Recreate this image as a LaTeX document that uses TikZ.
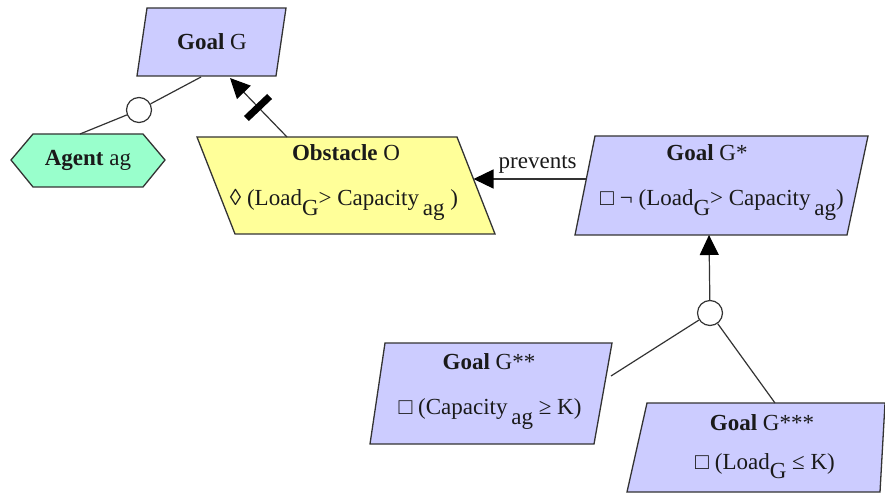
\documentclass[tikz,border=0pt]{standalone}
\usepackage{fontspec}
\setmainfont{Liberation Serif}
\usetikzlibrary{arrows.meta,calc}
\definecolor{goalfill}{HTML}{CCCCFF}
\definecolor{obsfill}{HTML}{FFFF99}
\definecolor{agentfill}{HTML}{99FFCC}
\definecolor{edgecol}{HTML}{333333}
\definecolor{txtcol}{HTML}{1A1A1A}
\newcommand{\sbs}[1]{\raisebox{-0.42em}{#1}}
\begin{document}
\begin{tikzpicture}[x=1pt,y=-1pt,
  shapeline/.style={draw=edgecol, line width=1.3pt, line join=miter},
  goalshape/.style={shapeline, fill=goalfill},
  obsshape/.style={shapeline, fill=obsfill},
  agentshape/.style={shapeline, fill=agentfill},
  lbl/.style={font=\fontsize{23}{26}\selectfont, text=txtcol, inner sep=0pt},
  link/.style={draw=edgecol, line width=1.2pt},
  reftip/.style={link, -{Triangle[length=20pt,width=19pt,color=black]}},
  andcirc/.style={circle, draw=edgecol, line width=1.2pt, fill=white, minimum size=25pt, inner sep=0pt}]
\useasboundingbox (0,0) rectangle (885,494);
% Goal G
\draw[goalshape] (147,8) -- (286,8) -- (276,76) -- (137,76) -- cycle;
\node[lbl] (gG) at (212,42) {\textbf{Goal} G};
\coordinate (gG-a) at (201,77);
\coordinate (gG-b) at (230,78);
% Agent
\draw[agentshape] (11,160) -- (33,134) -- (143,134) -- (165,160) -- (143,187) -- (33,187) -- cycle;
\node[lbl] (ag) at (88,160) {\textbf{Agent} ag};
\coordinate (ag-top) at (80,134);
% Obstacle
\draw[obsshape] (197,137) -- (457,137) -- (495,234) -- (235,234) -- cycle;
\node[lbl] (obsT) at (346,153) {\textbf{Obstacle} O};
\node[lbl] (obsF) at (344,205) {◊ (Load\sbs{G}> Capacity\,\sbs{ag} )};
\coordinate (obs-top) at (287,137);
\coordinate (obs-right) at (473.5,179);
% Goal G*
\draw[goalshape] (595,136) -- (868,136) -- (847,235) -- (575,235) -- cycle;
\node[lbl] (g1T) at (707,153) {\textbf{Goal} G*};
\node[lbl] (g1F) at (722,205) {□ ¬ (Load\sbs{G}> Capacity\,\sbs{ag})};
\coordinate (g1-left) at (586,179);
\coordinate (g1-bot) at (709,235);
% Goal G**
\draw[goalshape] (385,343) -- (612,343) -- (594,444) -- (370,444) -- cycle;
\node[lbl] (g2T) at (489,362) {\textbf{Goal} G**};
\node[lbl] (g2F) at (490,414) {□ (Capacity\,\sbs{ag} ≥ K)};
\coordinate (g2-right) at (611,376);
% Goal G***
\draw[goalshape] (647,403) -- (885,403) -- (880,492) -- (627,492) -- cycle;
\node[lbl] (g3T) at (762,423) {\textbf{Goal} G***};
\node[lbl] (g3F) at (765,466) {□ (Load\sbs{G} ≤ K)};
\coordinate (g3-top) at (775,403);
% AND refinement circles
\node[andcirc] (or1) at (139,110) {};
\node[andcirc] (or2) at (710,313) {};
% links
\draw[link] (gG-a) -- (or1);
\draw[link] (or1) -- (ag-top);
\draw[reftip] (or2) -- (g1-bot);
\draw[link] (or2) -- (g2-right);
\draw[link] (or2) -- (g3-top);
% obstruction
\draw[reftip] (obs-top) -- (gG-b);
\coordinate (barc) at (258,107.5);
\draw[draw=black, line width=7pt] ($(barc)!16pt!90:(gG-b)$) -- ($(barc)!16pt!-90:(gG-b)$);
% prevents
\draw[reftip] (g1-left) -- node[lbl, above=5pt, pos=0.43] (prev) {prevents} (obs-right);
\end{tikzpicture}
\end{document}
